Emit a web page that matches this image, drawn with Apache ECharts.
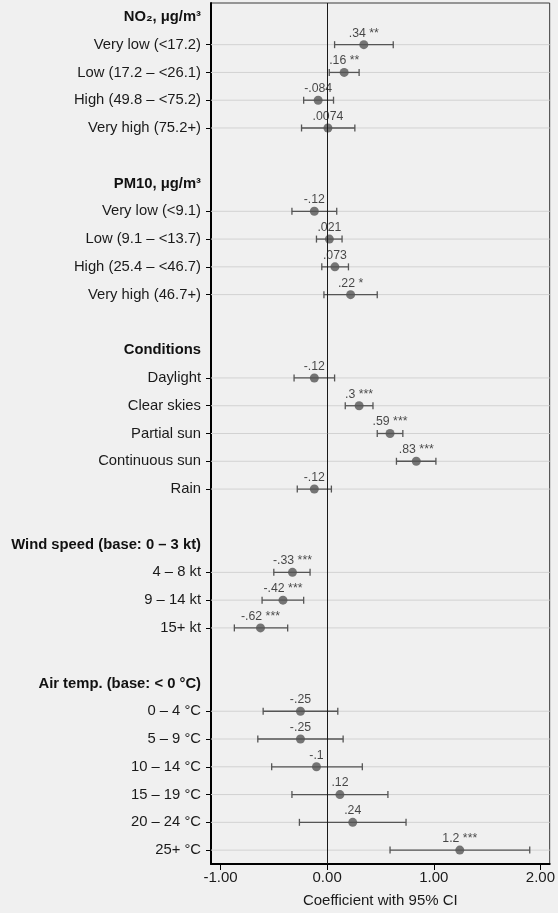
<!DOCTYPE html>
<html>
<head>
<meta charset="utf-8">
<script src="https://cdn.jsdelivr.net/npm/echarts@6/dist/echarts.min.js"></script>
<style>
html,body{margin:0;padding:0;background:#f0f0f0;}
#c{width:558px;height:913px;}
</style>
</head>
<body>
<div id="c"></div>
<script>
// Row labels (top to bottom); headers and blank spacer rows included
const categories = [
  'NO₂, μg/m³', 'Very low (<17.2)', 'Low (17.2 – <26.1)', 'High (49.8 – <75.2)', 'Very high (75.2+)', ' ',
  'PM10, μg/m³', 'Very low (<9.1)', 'Low (9.1 – <13.7)', 'High (25.4 – <46.7)', 'Very high (46.7+)', '  ',
  'Conditions', 'Daylight', 'Clear skies', 'Partial sun', 'Continuous sun', 'Rain', '   ',
  'Wind speed (base: 0 – 3 kt)', '4 – 8 kt', '9 – 14 kt', '15+ kt', '    ',
  'Air temp. (base: < 0 °C)', '0 – 4 °C', '5 – 9 °C', '10 – 14 °C', '15 – 19 °C', '20 – 24 °C', '25+ °C'
];
const headerRows = [0, 6, 12, 19, 24];
const coef = [
  null, 0.344, 0.16, -0.084, 0.0074, null,
  null, -0.12, 0.021, 0.073, 0.22, null,
  null, -0.12, 0.30, 0.59, 0.836, -0.12, null,
  null, -0.325, -0.414, -0.625, null,
  null, -0.25, -0.25, -0.10, 0.12, 0.24, 1.244
];
const ciLow = [
  null, 0.07, 0.02, -0.22, -0.24, null,
  null, -0.33, -0.10, -0.05, -0.03, null,
  null, -0.31, 0.17, 0.47, 0.65, -0.28, null,
  null, -0.50, -0.61, -0.87, null,
  null, -0.60, -0.65, -0.52, -0.33, -0.26, 0.59
];
const ciHigh = [
  null, 0.62, 0.30, 0.06, 0.26, null,
  null, 0.09, 0.14, 0.20, 0.47, null,
  null, 0.07, 0.43, 0.71, 1.02, 0.04, null,
  null, -0.16, -0.22, -0.37, null,
  null, 0.10, 0.15, 0.33, 0.57, 0.74, 1.90
];
const pointLabels = [
  '', '.34 **', '.16 **', '-.084', '.0074', '',
  '', '-.12', '.021', '.073', '.22 *', '',
  '', '-.12', '.3 ***', '.59 ***', '.83 ***', '-.12', '',
  '', '-.33 ***', '-.42 ***', '-.62 ***', '',
  '', '-.25', '-.25', '-.1', '.12', '.24', '1.2 ***'
];
const xTicks = [-1, 0, 1, 2];
const xTitle = 'Coefficient with 95% CI';

const FONT = '"Liberation Sans", Arial, Helvetica, sans-serif';
const isData = i => coef[i] !== null;

const pointData = [];
const ciData = [];
const gridData = [];
for (let i = 0; i < categories.length; i++) {
  if (isData(i)) {
    pointData.push([coef[i], i]);
    ciData.push([ciLow[i], ciHigh[i], i]);
    gridData.push([0, i]);
  }
}

const chart = echarts.init(document.getElementById('c'), null, {renderer: 'canvas'});
chart.setOption({
  animation: false,
  backgroundColor: '#f0f0f0',
  textStyle: {fontFamily: FONT},
  grid: {left: 211, right: 5, top: 3, bottom: 42, show: true, borderColor: '#3a3a3a', borderWidth: 1, backgroundColor: 'transparent'},
  xAxis: {
    type: 'value', min: -1.089, max: 2.087,
    axisLine: {show: true, onZero: false, lineStyle: {color: '#000', width: 2}},
    axisTick: {show: true, customValues: xTicks, length: 6, lineStyle: {color: '#000', width: 1}},
    axisLabel: {customValues: xTicks, formatter: v => v.toFixed(2), fontSize: 15, color: '#1a1a1a', margin: 6, fontFamily: FONT},
    splitLine: {show: false},
    name: xTitle, nameLocation: 'middle', nameGap: 29,
    nameTextStyle: {fontSize: 15, color: '#1a1a1a', fontFamily: FONT}
  },
  yAxis: {
    type: 'category', inverse: true, data: categories,
    axisLine: {show: true, onZero: false, lineStyle: {color: '#000', width: 2}},
    axisTick: {show: true, alignWithLabel: true, length: 5, interval: (idx) => isData(idx), lineStyle: {color: '#000', width: 1}},
    axisLabel: {
      interval: 0, margin: 10, fontSize: 14.8, color: '#1a1a1a', fontFamily: FONT,
      formatter: (v, idx) => headerRows.indexOf(idx) >= 0 ? '{h|' + v + '}' : v,
      rich: {h: {fontWeight: 'bold', fontSize: 14.8, color: '#111', fontFamily: FONT}}
    },
    splitLine: {show: false}
  },
  series: [
    {
      type: 'custom', z: 1, silent: true,
      data: gridData,
      encode: {x: 0, y: 1},
      renderItem: (params, api) => {
        const p = api.coord([0, api.value(1)]);
        const cs = params.coordSys;
        return {type: 'line', shape: {x1: cs.x, y1: p[1], x2: cs.x + cs.width, y2: p[1]},
          style: {stroke: '#d2d2d2', lineWidth: 1}};
      }
    },
    {
      type: 'custom', z: 3, silent: true,
      data: ciData,
      encode: {x: [0, 1], y: 2},
      renderItem: (params, api) => {
        const a = api.coord([api.value(0), api.value(2)]);
        const b = api.coord([api.value(1), api.value(2)]);
        const h = 3.5;
        const st = {stroke: '#555', lineWidth: 1.3};
        return {type: 'group', children: [
          {type: 'line', shape: {x1: a[0], y1: a[1], x2: b[0], y2: b[1]}, style: st},
          {type: 'line', shape: {x1: a[0], y1: a[1] - h, x2: a[0], y2: a[1] + h}, style: st},
          {type: 'line', shape: {x1: b[0], y1: b[1] - h, x2: b[0], y2: b[1] + h}, style: st}
        ]};
      }
    },
    {
      type: 'scatter', z: 4, silent: true,
      data: pointData,
      symbol: 'circle', symbolSize: 9,
      itemStyle: {color: '#555'},
      label: {
        show: true, position: 'top', distance: 1,
        formatter: p => pointLabels[p.data[1]],
        fontSize: 12.3, lineHeight: 12, color: '#1a1a1a', fontFamily: FONT
      },
      markLine: {
        silent: true, symbol: ['none', 'none'], label: {show: false},
        lineStyle: {color: '#1a1a1a', width: 1, type: 'solid'},
        data: [{xAxis: 0}]
      }
    }
  ]
});
</script>
</body>
</html>
